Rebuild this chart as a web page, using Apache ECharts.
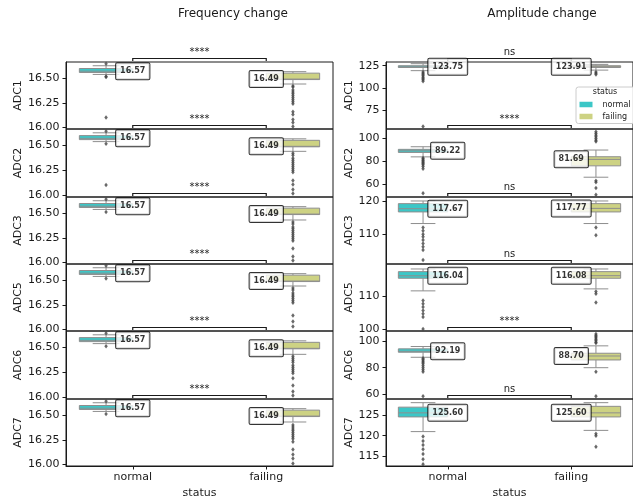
<!DOCTYPE html>
<html>
<head>
<meta charset="utf-8">
<script src="https://cdn.jsdelivr.net/npm/echarts@6/dist/echarts.min.js"></script>
<style>
  html, body { margin: 0; padding: 0; background: #fff; }
  #chart { width: 633px; height: 500px; }
</style>
</head>
<body>
<div id="chart"></div>
<script>
const CATEGORIES = ['normal', 'failing'];
const ROWS = ['ADC1', 'ADC2', 'ADC3', 'ADC5', 'ADC6', 'ADC7'];

// box stats: [lower whisker, Q1, median, Q3, upper whisker]
const freqNormalBox = [
  [16.537, 16.557, 16.57, 16.597, 16.625],
  [16.537, 16.557, 16.57, 16.597, 16.625],
  [16.537, 16.557, 16.57, 16.597, 16.625],
  [16.537, 16.557, 16.57, 16.597, 16.625],
  [16.537, 16.557, 16.57, 16.597, 16.625],
  [16.537, 16.557, 16.57, 16.597, 16.625]
];
const freqNormalOutliers = [
  [16.645, 16.515, 16.512, 16.10],
  [16.64, 16.515, 16.105],
  [16.64, 16.51],
  [16.645, 16.515],
  [16.64, 16.51],
  [16.64, 16.51]
];
const freqFailingBox = [
  [16.44, 16.485, 16.49, 16.55, 16.565],
  [16.44, 16.485, 16.49, 16.55, 16.565],
  [16.43, 16.485, 16.49, 16.55, 16.565],
  [16.44, 16.485, 16.49, 16.55, 16.565],
  [16.43, 16.485, 16.49, 16.55, 16.565],
  [16.43, 16.485, 16.49, 16.55, 16.565]
];
const freqFailingOutliers = [
  [16.42, 16.41, 16.38, 16.36, 16.34, 16.32, 16.30, 16.28, 16.26, 16.24, 16.16, 16.13, 16.08, 16.05, 16.01],
  [16.42, 16.40, 16.37, 16.35, 16.33, 16.31, 16.29, 16.27, 16.25, 16.23, 16.15, 16.11, 16.06, 16.02],
  [16.41, 16.39, 16.36, 16.34, 16.32, 16.30, 16.28, 16.26, 16.24, 16.22, 16.14, 16.06, 16.02],
  [16.42, 16.40, 16.37, 16.35, 16.33, 16.31, 16.29, 16.27, 16.14, 16.08, 16.03],
  [16.41, 16.39, 16.37, 16.35, 16.32, 16.30, 16.28, 16.26, 16.24, 16.19, 16.12, 16.06, 16.02],
  [16.40, 16.38, 16.36, 16.34, 16.32, 16.30, 16.28, 16.26, 16.23, 16.15, 16.10, 16.06, 16.01]
];

const ampNormalBox = [
  [119.4, 123.0, 123.75, 125.0, 127.3],
  [83.9, 87.8, 89.22, 90.5, 92.8],
  [113.2, 116.7, 117.67, 119.2, 120.0],
  [111.5, 115.3, 116.04, 117.3, 118.1],
  [87.75, 91.5, 92.19, 94.0, 95.75],
  [121.0, 124.6, 125.60, 127.0, 128.1]
];
const ampNormalOutliers = [
  [118.0, 116.5, 115.0, 113.5, 112.0, 110.5, 109.0, 107.5, 56.2],
  [83.0, 82.0, 81.0, 80.0, 79.0, 78.0, 77.0, 75.5, 73.5, 52.0],
  [112.0, 111.0, 110.0, 109.2, 108.2, 107.2, 106.2, 105.2, 102.2],
  [108.6, 107.6, 106.6, 105.6, 104.6, 103.6, 100.0],
  [87.0, 86.0, 85.0, 84.0, 83.0, 81.5, 80.0, 78.5, 77.0, 58.7],
  [119.8, 118.7, 117.7, 116.7, 115.5, 114.2, 113.0]
];
const ampFailingBox = [
  [120.0, 123.0, 123.91, 125.0, 126.5],
  [66.0, 76.0, 81.69, 84.0, 89.9],
  [113.2, 116.7, 117.77, 119.2, 120.0],
  [112.1, 115.3, 116.08, 117.3, 118.1],
  [80.0, 85.75, 88.70, 90.75, 96.25],
  [121.3, 124.6, 125.60, 127.2, 128.1]
];
const ampFailingOutliers = [
  [118.0, 116.5, 115.0],
  [106.0, 104.5, 103.0, 101.5, 100.0, 98.5, 97.3, 63.0, 61.5, 56.5, 50.5],
  [112.0, 109.7],
  [111.3, 110.6, 108.0],
  [105.0, 104.0, 103.0, 102.0, 101.0, 100.0, 99.0, 98.3, 77.0, 58.7],
  [120.5, 120.0, 117.3]
];

const freqSignif = ['****', '****', '****', '****', '****', '****'];
const ampSignif = ['ns', '****', 'ns', 'ns', '****', 'ns'];

const freqYRange = [15.984, 16.663];
const freqTicks = [16.0, 16.25, 16.5];
const ampYRange = [[53.3, 129.2], [48.6, 108.4], [101.0, 121.2], [99.4, 119.6], [56.7, 107.3], [112.56, 129.0]];
const ampTicks = [[75, 100, 125], [60, 80, 100], [110, 120], [100, 110], [60, 80, 100], [115, 120, 125]];

// layout
const FONT = 'DejaVu Sans';
const ROW_TOPS = [62, 129, 197, 264, 331, 399];
const ROW_BOTTOM = 466;
const COLS = [
  { left: 66, width: 267, nameGap: 42 },
  { left: 386, width: 250, nameGap: 30 }
];
const DODGE = 0.2;
const BOX_W = 0.4;
const NORMAL_COLOR = '#3cc7c7';
const FAILING_COLOR = '#cdd283';
const EDGE = '#8e8e8e';
const INK = '#1a1a1a';

function renderBox(params, api) {
  const x = api.value(0);
  const pts = [1, 2, 3, 4, 5].map(i => api.coord([x, api.value(i)]));
  const [lo, q1, med, q3, hi] = pts;
  const w = api.size([BOX_W, 0])[0];
  const cx = lo[0];
  const line = (x1, y1, x2, y2) => ({
    type: 'line', shape: { x1, y1, x2, y2 }, style: { stroke: EDGE, lineWidth: 1 }
  });
  return {
    type: 'group',
    children: [
      line(cx, lo[1], cx, q1[1]),
      line(cx, q3[1], cx, hi[1]),
      line(cx - w / 4, lo[1], cx + w / 4, lo[1]),
      line(cx - w / 4, hi[1], cx + w / 4, hi[1]),
      {
        type: 'rect',
        shape: { x: cx - w / 2, y: q3[1], width: w, height: q1[1] - q3[1] },
        style: { fill: api.visual('color'), stroke: EDGE, lineWidth: 1 }
      },
      line(cx - w / 2, med[1], cx + w / 2, med[1])
    ]
  };
}

function bracketRenderer(text) {
  return function (params, api) {
    const top = params.coordSys.y;
    const x1 = api.coord([api.value(0), api.value(2)])[0];
    const x2 = api.coord([api.value(1), api.value(2)])[0];
    const yLine = top - 3.5;
    const yEnd = top - 1;
    return {
      type: 'group',
      children: [
        {
          type: 'polyline',
          shape: { points: [[x1, yEnd], [x1, yLine], [x2, yLine], [x2, yEnd]] },
          style: { stroke: INK, fill: null, lineWidth: 1.2 }
        },
        {
          type: 'text', x: (x1 + x2) / 2, y: yLine - 1,
          style: { text, align: 'center', verticalAlign: 'bottom', fontSize: 10, fontFamily: FONT, fill: INK }
        }
      ]
    };
  };
}

const columns = [
  {
    normalBox: freqNormalBox, normalOut: freqNormalOutliers,
    failingBox: freqFailingBox, failingOut: freqFailingOutliers,
    signif: freqSignif, range: () => freqYRange, ticks: () => freqTicks,
    fmt: v => v.toFixed(2)
  },
  {
    normalBox: ampNormalBox, normalOut: ampNormalOutliers,
    failingBox: ampFailingBox, failingOut: ampFailingOutliers,
    signif: ampSignif, range: r => ampYRange[r], ticks: r => ampTicks[r],
    fmt: v => String(v)
  }
];

const grid = [];
const xAxis = [];
const yAxis = [];
const series = [];

columns.forEach((col, c) => {
  ROWS.forEach((row, r) => {
    const g = grid.length;
    const bottomRow = r === ROWS.length - 1;
    const top = ROW_TOPS[r];
    const height = (r + 1 < ROW_TOPS.length ? ROW_TOPS[r + 1] : ROW_BOTTOM) - top;
    const [yMin, yMax] = col.range(r);
    const ticks = col.ticks(r);

    grid.push({
      left: COLS[c].left, top, width: COLS[c].width, height,
      show: true, borderColor: INK, borderWidth: 1, backgroundColor: 'transparent'
    });

    xAxis.push({
      gridIndex: g, type: 'category', data: CATEGORIES, position: 'bottom',
      show: bottomRow,
      axisLine: { show: true, onZero: false, lineStyle: { color: INK } },
      axisTick: { show: true, alignWithLabel: true, length: 3.5, lineStyle: { color: INK } },
      axisLabel: { fontSize: 11, fontFamily: FONT, color: INK, margin: 6 },
      name: bottomRow ? 'status' : '',
      nameLocation: 'middle', nameGap: 22,
      nameTextStyle: { fontSize: 11, fontFamily: FONT, color: INK }
    });
    xAxis.push({
      gridIndex: g, type: 'value', min: -0.5, max: 1.5, show: false, position: 'top'
    });
    const valX = xAxis.length - 1;

    yAxis.push({
      gridIndex: g, type: 'value', min: yMin, max: yMax, position: 'left',
      name: row, nameLocation: 'middle', nameGap: COLS[c].nameGap,
      nameTextStyle: { fontSize: 11, fontFamily: FONT, color: INK },
      axisLine: { show: true, onZero: false, lineStyle: { color: INK } },
      axisTick: { show: true, length: 3.5, customValues: ticks, lineStyle: { color: INK } },
      axisLabel: {
        customValues: ticks, formatter: col.fmt,
        fontSize: 11, fontFamily: FONT, color: INK, margin: 6.5
      },
      splitLine: { show: false }
    });

    const nb = col.normalBox[r];
    const fb = col.failingBox[r];

    series.push({
      type: 'custom', name: 'normal', xAxisIndex: valX, yAxisIndex: g,
      itemStyle: { color: NORMAL_COLOR },
      data: [[0 - DODGE].concat(nb)],
      encode: { x: 0, y: [1, 2, 3, 4, 5] },
      renderItem: renderBox, z: 2, silent: true
    });
    series.push({
      type: 'custom', name: 'failing', xAxisIndex: valX, yAxisIndex: g,
      itemStyle: { color: FAILING_COLOR },
      data: [[1 + DODGE].concat(fb)],
      encode: { x: 0, y: [1, 2, 3, 4, 5] },
      renderItem: renderBox, z: 2, silent: true
    });
    series.push({
      type: 'scatter', name: 'outliers', xAxisIndex: valX, yAxisIndex: g,
      symbol: 'diamond', symbolSize: [3.5, 4.5],
      itemStyle: { color: '#444444' },
      data: col.normalOut[r].map(v => [0 - DODGE, v])
        .concat(col.failingOut[r].map(v => [1 + DODGE, v])),
      z: 3, silent: true
    });
    series.push({
      type: 'scatter', name: 'medians', xAxisIndex: valX, yAxisIndex: g,
      symbolSize: 0, silent: true, z: 10,
      data: [[0, nb[2]], [1, fb[2]]],
      label: {
        show: true, position: 'inside',
        formatter: p => p.value[1].toFixed(2),
        fontSize: 8, fontWeight: 'bold', fontFamily: FONT, color: '#000',
        lineHeight: 9,
        backgroundColor: '#ffffff', borderColor: '#000', borderWidth: 1, borderRadius: 1,
        padding: [4, 4, 3, 4]
      }
    });
    series.push({
      type: 'custom', name: 'bracket', xAxisIndex: valX, yAxisIndex: g,
      data: [[0, 1, yMax]],
      encode: { x: [0, 1], y: 2 },
      renderItem: bracketRenderer(col.signif[r]), z: 5, silent: true
    });
  });
});

const chart = echarts.init(document.getElementById('chart'), null, { renderer: 'canvas' });
chart.setOption({
  animation: false,
  backgroundColor: '#ffffff',
  title: [
    {
      text: 'Frequency change', left: 233, top: 8, textAlign: 'center', padding: 0,
      textStyle: { fontSize: 12, fontWeight: 'normal', fontFamily: FONT, color: INK }
    },
    {
      text: 'Amplitude change', left: 542, top: 8, textAlign: 'center', padding: 0,
      textStyle: { fontSize: 12, fontWeight: 'normal', fontFamily: FONT, color: INK }
    },
    {
      text: 'status', left: 605, top: 88, textAlign: 'center', padding: 0,
      textStyle: { fontSize: 8, fontWeight: 'normal', fontFamily: FONT, color: INK }
    }
  ],
  legend: {
    data: ['normal', 'failing'],
    orient: 'vertical', left: 576, top: 87,
    icon: 'rect', itemWidth: 13, itemHeight: 5.5, itemGap: 4,
    padding: [13.5, 4, 3, 3.5],
    backgroundColor: 'rgba(255,255,255,0.85)',
    borderColor: '#cccccc', borderWidth: 1, borderRadius: 2.5,
    selectedMode: false,
    textStyle: { fontSize: 8, fontFamily: FONT, color: INK, lineHeight: 8, padding: [0, 0, 0, 5] }
  },
  grid,
  xAxis,
  yAxis,
  series
});
</script>
</body>
</html>
